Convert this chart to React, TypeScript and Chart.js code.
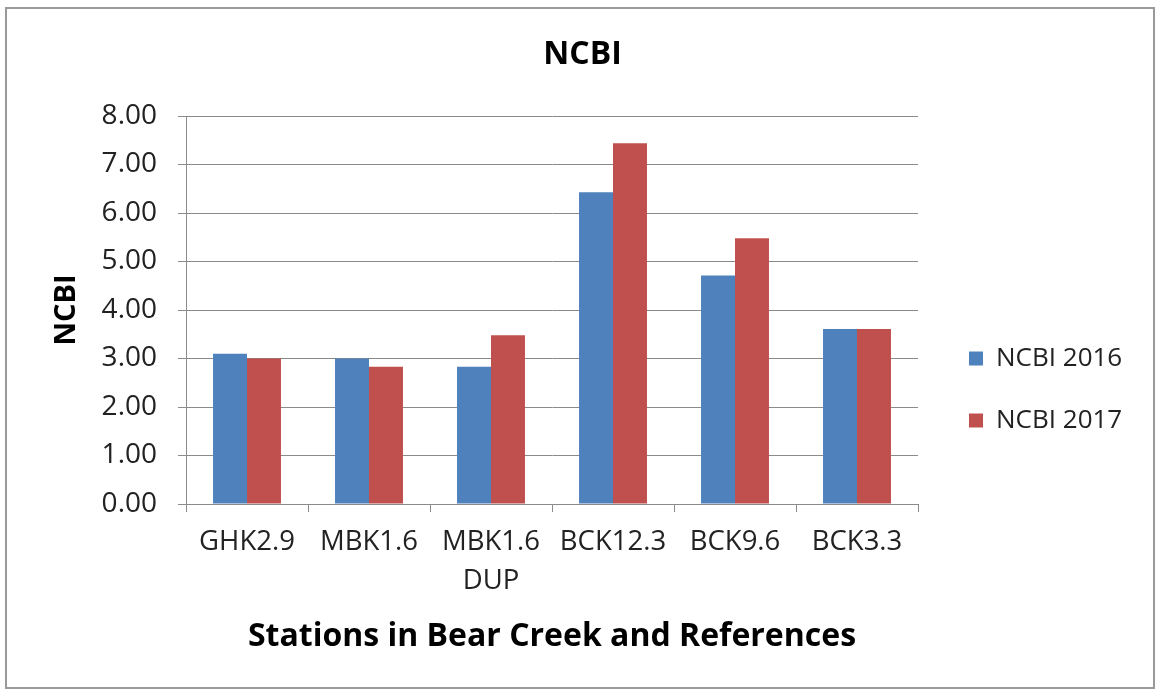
import React, { useEffect, useRef } from 'react';
import { Chart, registerables } from 'chart.js';

Chart.register(...registerables);

const categories: (string | string[])[] = ['GHK2.9', 'MBK1.6', ['MBK1.6', 'DUP'], 'BCK12.3', 'BCK9.6', 'BCK3.3'];
const seriesNames = ['NCBI 2016', 'NCBI 2017'];
const ncbi2016 = [3.1, 3.0, 2.83, 6.43, 4.71, 3.61];
const ncbi2017 = [3.0, 2.83, 3.48, 7.44, 5.48, 3.61];
const yMin = 0;
const yMax = 8;
const yStep = 1;
const chartTitle = 'NCBI';
const yTitle = 'NCBI';
const xTitle = 'Stations in Bear Creek and References';

const FONT = "'Open Sans', sans-serif";
const CW = 1146;
const CH = 678;
const GRID = '#8a8a8a';
const TEXT = '#222222';
const LEGEND_LEFT = 926;
const PLOT_LEFT = 179;
const YTITLE_CENTER = 60;

export default function App() {
  const ref = useRef<HTMLCanvasElement | null>(null);

  useEffect(() => {
    const canvas = ref.current;
    if (!canvas) return;

    const legendPad = 36;
    const layoutState = { padLeft: 0 };

    const chart = new Chart(canvas, {
      type: 'bar',
      data: {
        labels: categories as any,
        datasets: [
          {
            label: seriesNames[0],
            data: ncbi2016,
            backgroundColor: '#4f81bd',
            borderWidth: 0,
            categoryPercentage: 0.557,
            barPercentage: 1,
          },
          {
            label: seriesNames[1],
            data: ncbi2017,
            backgroundColor: '#c0504d',
            borderWidth: 0,
            categoryPercentage: 0.557,
            barPercentage: 1,
          },
        ],
      },
      options: {
        responsive: false,
        animation: false,
        devicePixelRatio: 1,
        layout: { padding: { left: 0, top: 0, bottom: 0, right: 30 } },
        plugins: {
          tooltip: { enabled: false },
          title: {
            display: true,
            text: chartTitle,
            color: '#000',
            font: { family: FONT, size: 32, weight: 'bold', lineHeight: 1.2 },
            padding: { top: 26.8, bottom: 41.8 },
          },
          legend: {
            position: 'right',
            align: 'start',
            maxWidth: 400,
            title: {
              display: true,
              text: ' ',
              font: { family: FONT, size: 12, lineHeight: 1.2 },
              padding: { top: 0, bottom: 286.1 },
            },
            labels: {
              boxWidth: 14,
              boxHeight: 14,
              padding: legendPad,
              color: TEXT,
              font: { family: FONT, size: 26 },
            },
          },
        },
        scales: {
          x: {
            offset: true,
            grid: {
              display: true,
              offset: true,
              drawOnChartArea: false,
              drawTicks: true,
              tickLength: 8,
              color: GRID,
            },
            border: { display: true, color: GRID, width: 1 },
            ticks: {
              color: TEXT,
              font: { family: FONT, size: 27.5, lineHeight: 1.43 },
              padding: 10.5,
              maxRotation: 0,
              minRotation: 0,
              autoSkip: false,
            },
            title: {
              display: true,
              text: xTitle,
              color: '#000',
              font: { family: FONT, size: 32, weight: 'bold', lineHeight: 1.2 },
              padding: { top: 0, bottom: 31.3 },
            },
            afterFit: (s: any) => {
              s.height = 183;
            },
          },
          y: {
            min: yMin,
            max: yMax,
            ticks: {
              stepSize: yStep,
              color: TEXT,
              font: { family: FONT, size: 28 },
              padding: 21,
              callback: (v: any) => Number(v).toFixed(2),
            },
            grid: { color: GRID, tickLength: 8, drawTicks: true },
            border: { display: true, color: GRID, width: 1 },
            title: {
              display: true,
              text: yTitle,
              color: '#000',
              font: { family: FONT, size: 29, weight: 'bold', lineHeight: 1.2 },
              padding: { top: YTITLE_CENTER - 17.4, bottom: 0 },
            },
            afterFit: (s: any) => {
              s.width = PLOT_LEFT - layoutState.padLeft;
            },
          },
          spacer: {
            type: 'linear',
            position: 'right',
            min: 0,
            max: 1,
            grid: { display: false },
            border: { display: false },
            ticks: { display: false },
            afterFit: (s: any) => {
              s.width = 15;
            },
          },
        },
      } as any,
    });

    // place the legend box so the plot area ends where the reference's does,
    // and balance the side paddings so the chart title sits where it should
    const lw = (chart as any).legend?.width ?? 190;
    const padRight = Math.max(0, CW - LEGEND_LEFT - lw);
    const padLeft = padRight + 5;
    layoutState.padLeft = padLeft;
    const opts = chart.options as any;
    opts.layout.padding.right = padRight;
    opts.layout.padding.left = padLeft;
    opts.scales.y.title.padding = { top: YTITLE_CENTER - 17.4 - padLeft, bottom: 0 };
    chart.update();

    return () => chart.destroy();
  }, []);

  return (
    <div
      style={{
        position: 'absolute',
        left: 5,
        top: 7,
        width: 1150,
        height: 682,
        boxSizing: 'border-box',
        border: '2px solid #9a9a9a',
        background: '#fff',
      }}
    >
      <canvas ref={ref} width={CW} height={CH} style={{ display: 'block', width: CW, height: CH }} />
    </div>
  );
}
